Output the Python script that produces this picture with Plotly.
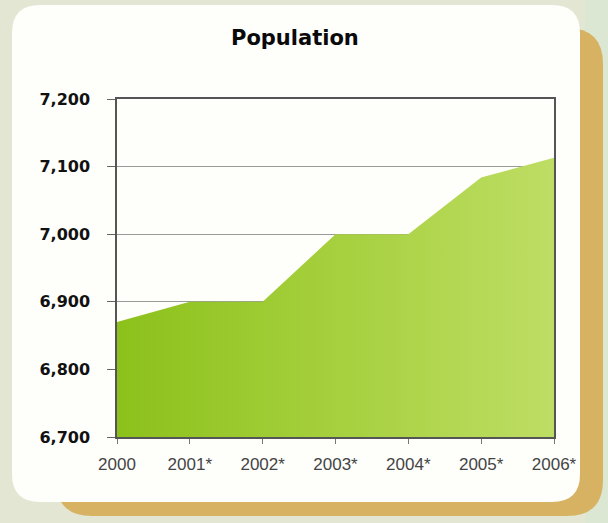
import plotly.graph_objects as go

years = ["2000", "2001*", "2002*", "2003*", "2004*", "2005*", "2006*"]
population = [6870, 6900, 6900, 7000, 7000, 7084, 7113]
y_ticks = [6700, 6800, 6900, 7000, 7100, 7200]
y_tick_text = ["6,700", "6,800", "6,900", "7,000", "7,100", "7,200"]

W, H = 608, 523
L, R, T, B = 117, 554, 99, 437


def px(x):
    return (x - L) / (R - L)


def py(y):
    return (B - y) / (B - T)


def rrect(x0, y0, x1, y1, r):
    p = f"M {px(x0 + r)},{py(y0)} L {px(x1 - r)},{py(y0)} "
    p += f"Q {px(x1)},{py(y0)} {px(x1)},{py(y0 + r)} "
    p += f"L {px(x1)},{py(y1 - r)} Q {px(x1)},{py(y1)} {px(x1 - r)},{py(y1)} "
    p += f"L {px(x0 + r)},{py(y1)} Q {px(x0)},{py(y1)} {px(x0)},{py(y1 - r)} "
    p += f"L {px(x0)},{py(y0 + r)} Q {px(x0)},{py(y0)} {px(x0 + r)},{py(y0)} Z"
    return p


fig = go.Figure()
fig.add_trace(go.Scatter(
    x=years, y=population, mode="none", fill="tozeroy",
    fillgradient=dict(type="horizontal",
                      colorscale=[[0, "#8cc11b"], [0.5, "#a6d03e"], [1, "#bedd64"]]),
    hoverinfo="x+y", showlegend=False,
))

shapes = [
    dict(type="rect", x0=px(585), x1=px(608), y0=py(0), y1=py(523), xref="paper", yref="paper",
         fillcolor="#dbe7d2", line=dict(width=0), layer="below"),
    dict(type="path", path=rrect(56, 28, 603, 516, 36), xref="paper", yref="paper",
         fillcolor="#d8b263", line=dict(width=0), layer="below"),
    dict(type="path", path=rrect(12, 5, 580, 502, 28), xref="paper", yref="paper",
         fillcolor="#fefefb", line=dict(width=0), layer="below"),
]

fig.update_layout(
    width=W, height=H,
    margin=dict(l=L, r=W - R, t=T, b=H - B),
    paper_bgcolor="#e3e6d3",
    plot_bgcolor="rgba(0,0,0,0)",
    shapes=shapes,
    annotations=[dict(text="<b>Population</b>", x=px(295), y=py(38), xref="paper", yref="paper",
                      xanchor="center", yanchor="middle",
                      showarrow=False, font=dict(family="DejaVu Sans", size=21, color="#0a0a0a"))],
    xaxis=dict(
        type="category", range=[0, 6], showgrid=False,
        showline=True, linecolor="#555", linewidth=1.5, mirror=True,
        ticks="outside", ticklen=5, tickcolor="#777", tickson="labels",
        tickfont=dict(family="Liberation Sans Narrow, Liberation Sans", size=17, color="#444"),
        ticklabelstandoff=6,
        fixedrange=True,
    ),
    yaxis=dict(
        range=[6700, 7200], tickvals=y_ticks, ticktext=["<b>%s</b>" % t for t in y_tick_text],
        showgrid=True, gridcolor="#9a9a9a", gridwidth=1,
        showline=True, linecolor="#555", linewidth=1.5, mirror=True,
        ticks="outside", ticklen=8, tickcolor="#666",
        tickfont=dict(family="DejaVu Sans", size=16, color="#111"),
        ticklabelstandoff=14, zeroline=False,
    ),
)

fig.write_html("out.html", config={"displayModeBar": False},
               post_script="document.body.style.margin='0';document.body.style.overflow='hidden';")
